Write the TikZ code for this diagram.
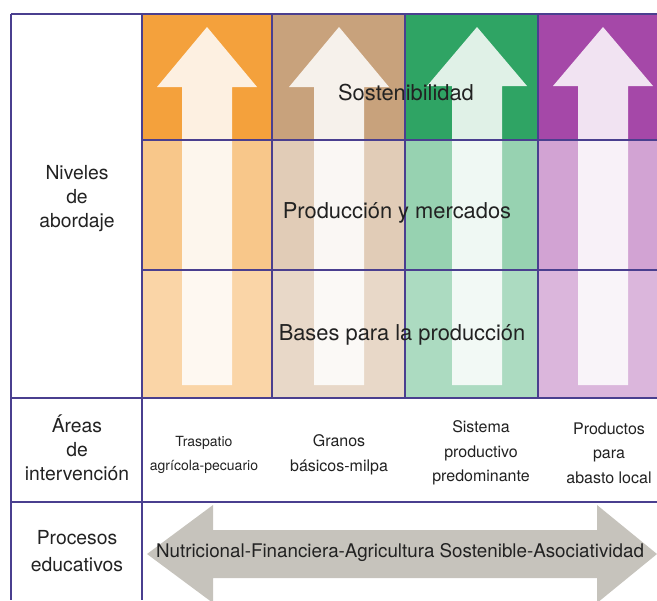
\documentclass[tikz,border=0pt]{standalone}
\usepackage{fontspec}
\setmainfont{TeX Gyre Heros}
\definecolor{naranja}{HTML}{F4A13C}
\definecolor{cafe}{HTML}{C8A27C}
\definecolor{verde}{HTML}{2FA464}
\definecolor{morado}{HTML}{A548A8}
\definecolor{linea}{HTML}{4A3F8F}
\definecolor{gris}{HTML}{C6C3BC}
\definecolor{texto}{HTML}{222222}

\begin{document}
\begin{tikzpicture}[x=0.75pt,y=-0.75pt,
  rejilla/.style={draw=linea,line width=1.1pt},
  flecha/.style={fill=white,fill opacity=0.85},
  nivel/.style={text=texto,font=\fontsize{16.4}{19}\selectfont},
  etiqueta/.style={text=texto,align=center,font=\fontsize{14.5}{18}\selectfont},
  area/.style={text=texto,align=center,font=\fontsize{12}{18.4}\selectfont}]
\useasboundingbox (0,0) rectangle (657,600);
\begin{scope}
\clip (0,0) rectangle (657,600);
% columnas
\fill[naranja] (142,14) rectangle (272,140);
\fill[naranja!60!white] (142,140) rectangle (272,270);
\fill[naranja!45!white] (142,270) rectangle (272,398);
\fill[cafe] (272,14) rectangle (405,140);
\fill[cafe!55!white] (272,140) rectangle (405,270);
\fill[cafe!42!white] (272,270) rectangle (405,398);
\fill[verde] (405,14) rectangle (538,140);
\fill[verde!50!white] (405,140) rectangle (538,270);
\fill[verde!40!white] (405,270) rectangle (538,398);
\fill[morado] (538,14) rectangle (670,140);
\fill[morado!50!white] (538,140) rectangle (670,270);
\fill[morado!40!white] (538,270) rectangle (670,398);

% flechas verticales
\fill[flecha] (207,27) -- (257,87) -- (232,87) -- (232,385) -- (182,385) -- (182,87) -- (157,87) -- cycle;
\fill[flecha] (339,27) -- (389,87) -- (364,87) -- (364,385) -- (314,385) -- (314,87) -- (289,87) -- cycle;
\fill[flecha] (477,27) -- (527,86) -- (502,86) -- (502,385) -- (452,385) -- (452,86) -- (427,86) -- cycle;
\fill[flecha] (603,27) -- (653,86) -- (628,86) -- (628,385) -- (578,385) -- (578,86) -- (553,86) -- cycle;

% flecha doble
\fill[gris] (147,554) -- (213,505) -- (213,530) -- (597,530) -- (597,505) -- (657,554)
  -- (597,603) -- (597,578) -- (213,578) -- (213,603) -- cycle;
\end{scope}

% rejilla
\path[rejilla] (11,14) -- (657,14);
\path[rejilla] (142,140) -- (657,140);
\path[rejilla] (142,270) -- (657,270);
\path[rejilla] (11,398) -- (657,398);
\path[rejilla] (11,502) -- (657,502);
\path[rejilla] (11,14) -- (11,600);
\path[rejilla] (142,14) -- (142,600);
\path[rejilla] (272,14) -- (272,398);
\path[rejilla] (405,14) -- (405,398);
\path[rejilla] (538,14) -- (538,398);

% textos
\node[nivel] (sost) at (406,93) {Sostenibilidad};
\node[nivel] (prod) at (397,213) {Producción y mercados};
\node[nivel] (bases) at (402,335) {Bases para la producción};

\node[etiqueta] (niveles) at (77,199) {Niveles\\de\\abordaje};
\node[etiqueta] (areas) at (77,448) {Áreas\\de\\intervención};
\node[etiqueta,font=\fontsize{14.5}{20}\selectfont] (procesos) at (77,551) {Procesos\\educativos};

\node[area,font=\fontsize{10.5}{18.4}\selectfont] (traspatio) at (204,455) {Traspatio\\agrícola-pecuario};
\node[area] (granos) at (339,455) {Granos\\básicos-milpa};
\node[area] (sistema) at (481,453) {Sistema\\productivo\\predominante};
\node[area] (productos) at (609,453) {Productos\\para\\abasto local};

\node[text=texto,font=\fontsize{14.1}{17}\selectfont] (educ) at (400,553)
  {Nutricional-Financiera-Agricultura Sostenible-Asociatividad};
\end{tikzpicture}
\end{document}
